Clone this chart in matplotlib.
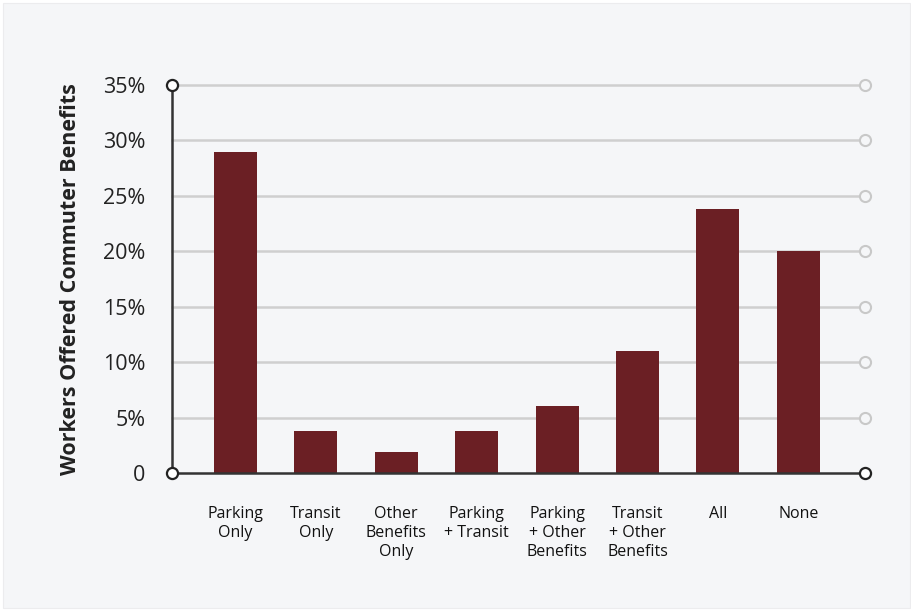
import matplotlib.pyplot as plt
from matplotlib.patches import Rectangle

# data
categories = ['Parking\nOnly', 'Transit\nOnly', 'Other\nBenefits\nOnly', 'Parking\n+ Transit',
              'Parking\n+ Other\nBenefits', 'Transit\n+ Other\nBenefits', 'All', 'None']
shares = [29, 3.8, 1.9, 3.8, 6, 11, 23.8, 20]
yticks = [0, 5, 10, 15, 20, 25, 30, 35]
ytick_labels = ['0', '5%', '10%', '15%', '20%', '25%', '30%', '35%']

plt.rcParams['font.family'] = ['Open Sans', 'DejaVu Sans']

fig = plt.figure(figsize=(9.12, 6.12), dpi=100)
fig.patch.set_facecolor('white')
# grey panel behind everything
fig.patches.append(Rectangle((3 / 912, 4 / 612), 907 / 912, 605 / 612, transform=fig.transFigure,
                             facecolor='#f5f6f8', edgecolor='#ececee', lw=0.8, zorder=-5))

ax = fig.add_axes([172 / 912, 1 - 473 / 612, 693 / 912, 388 / 612])
ax.set_facecolor('none')

x = list(range(len(categories)))
ax.bar(x, shares, width=0.535, color='#6b1f24', zorder=3)

ax.set_xlim(-0.79, 7.83)
ax.set_ylim(0, 35)

# grid lines with little circles on the right
for t in yticks[1:]:
    ax.plot([-0.79, 7.83], [t, t], color='#cfcfcf', lw=1.8, zorder=1, clip_on=False)
    ax.plot([7.83], [t], marker='o', ms=8, mfc='#f5f6f8', mec='#c8c8c8', mew=1.5,
            zorder=4, clip_on=False)

for s in ['top', 'right']:
    ax.spines[s].set_visible(False)
for s in ['left', 'bottom']:
    ax.spines[s].set_color('#333333')
    ax.spines[s].set_linewidth(1.8)
    ax.spines[s].set_zorder(5)

# end circles on the axes
for px, py in [(-0.79, 0), (-0.79, 35), (7.83, 0)]:
    ax.plot([px], [py], marker='o', ms=8, mfc='white', mec='#222222', mew=1.6,
            zorder=6, clip_on=False)

ax.set_yticks(yticks)
ax.set_yticklabels(ytick_labels, fontsize=15.5, color='#222222')
ax.tick_params(axis='y', length=0, pad=19)
ax.set_xticks(x)
ax.set_xticklabels(categories, fontsize=11.5, color='#111111', linespacing=1.22, va='top')
ax.tick_params(axis='x', length=0, pad=24)

ax.set_ylabel('Workers Offered Commuter Benefits', fontsize=15.5, fontweight='bold',
              color='#222222', labelpad=16)

fig.savefig('out.png', dpi=100, facecolor=fig.get_facecolor())
